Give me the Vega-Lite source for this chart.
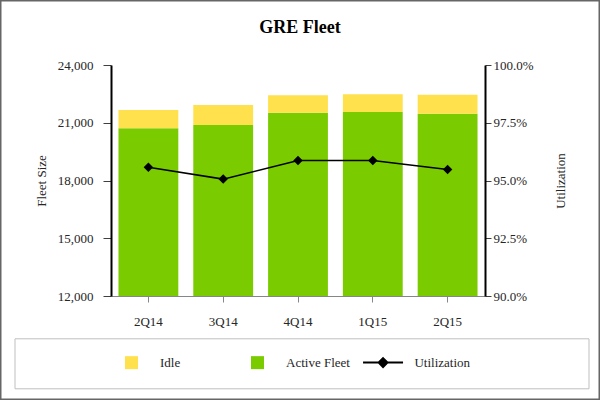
{
  "$schema": "https://vega.github.io/schema/vega-lite/v6.json",
  "width": 600,
  "height": 400,
  "autosize": {"type": "none"},
  "padding": 0,
  "background": "white",
  "title": {"text": "GRE Fleet", "font": "Liberation Serif", "fontSize": 18, "fontWeight": "bold", "color": "black", "baseline": "alphabetic", "offset": -51, "anchor": "middle"},
  "config": {
    "view": {"stroke": "#666666", "strokeWidth": 3},
    "font": "Liberation Serif",
    "axis": {"labelFont": "Liberation Serif", "labelFontSize": 13, "labelColor": "#262626", "titleFont": "Liberation Serif", "titleFontSize": 13, "titleFontWeight": "normal", "titleColor": "#262626", "grid": false},
    "legend": {"labelFont": "Liberation Serif", "labelFontSize": 13, "labelColor": "#262626"}
  },
  "datasets": {
    "fleet": [
      {"quarter": "2Q14", "series": "Active Fleet", "units": 20712},
      {"quarter": "2Q14", "series": "Idle", "units": 950},
      {"quarter": "3Q14", "series": "Active Fleet", "units": 20883},
      {"quarter": "3Q14", "series": "Idle", "units": 1039},
      {"quarter": "4Q14", "series": "Active Fleet", "units": 21522},
      {"quarter": "4Q14", "series": "Idle", "units": 904},
      {"quarter": "1Q15", "series": "Active Fleet", "units": 21558},
      {"quarter": "1Q15", "series": "Idle", "units": 920},
      {"quarter": "2Q15", "series": "Active Fleet", "units": 21470},
      {"quarter": "2Q15", "series": "Idle", "units": 987}
    ],
    "util": [
      {"quarter": "2Q14", "utilization": 0.9557},
      {"quarter": "3Q14", "utilization": 0.9506},
      {"quarter": "4Q14", "utilization": 0.9587},
      {"quarter": "1Q15", "utilization": 0.9587},
      {"quarter": "2Q15", "utilization": 0.9548}
    ]
  },
  "encoding": {
    "x": {
      "field": "quarter", "type": "nominal", "sort": ["2Q14", "3Q14", "4Q14", "1Q15", "2Q15"],
      "scale": {"range": [111, 485], "paddingInner": 0.2, "paddingOuter": 0.1},
      "axis": {"orient": "bottom", "offset": -104, "title": null, "labelAngle": 0, "domainColor": "#868686", "domainWidth": 1, "tickColor": "#868686", "tickSize": 6, "labelPadding": 13}
    }
  },
  "layer": [
    {
      "data": {"name": "fleet"},
      "mark": {"type": "bar"},
      "encoding": {
        "y": {
          "field": "units", "type": "quantitative", "stack": "zero",
          "scale": {"domain": [12000, 24000], "range": [296, 65], "zero": false, "nice": false, "clamp": true},
          "axis": {"orient": "left", "offset": -111, "title": "Fleet Size", "values": [12000, 15000, 18000, 21000, 24000], "format": ",d", "domainColor": "black", "domainWidth": 2, "tickColor": "#404040", "tickSize": 8, "labelPadding": 10, "titlePadding": 9}
        },
        "order": {"field": "series", "sort": "ascending"},
        "fill": {
          "field": "series", "type": "nominal",
          "scale": {"domain": ["Idle", "Active Fleet"], "range": ["#FFE14D", "#7ACC00"]},
          "legend": {
            "orient": "none", "legendX": 125, "legendY": 355.9, "direction": "horizontal",
            "title": null, "padding": 0,
            "symbolType": "square", "symbolSize": 169, "symbolStrokeWidth": 0,
            "labelOffset": 22, "columnPadding": 70, "labelLimit": 1000
          }
        }
      }
    },
    {
      "data": {"name": "util"},
      "layer": [
        {
          "mark": {"type": "line", "strokeWidth": 1.5},
          "encoding": {
            "y": {
              "field": "utilization", "type": "quantitative",
              "scale": {"domain": [0.9, 1.0], "range": [296, 65], "zero": false, "nice": false},
              "axis": {"orient": "right", "offset": -115, "title": "Utilization", "titleAngle": 270, "values": [0.9, 0.925, 0.95, 0.975, 1.0], "format": ".1%", "domainColor": "black", "domainWidth": 2, "tickColor": "#404040", "tickSize": 6, "labelPadding": 2, "titlePadding": 34}
            },
            "stroke": {
              "datum": "Utilization",
              "scale": {"range": ["black"]},
              "legend": {
                "orient": "none", "legendX": 14.5, "legendY": 338.3,
                "title": "\u00a0", "titleOrient": "left", "titleFontSize": 1, "titlePadding": 344.3,
                "padding": 16.75, "strokeColor": "#BFBFBF",
                "symbolType": "M-3.077,0L3.077,0M0,-0.68L0.68,0L0,0.68L-0.68,0Z",
                "symbolSize": 169, "symbolStrokeWidth": 2, "symbolStrokeColor": "black", "symbolFillColor": "black",
                "labelOffset": 23.9, "labelLimit": 1000,
                "labelExpr": "pad(datum.label, 42, '\u00a0') + '\u200b'",
                "encode": {"symbols": {"update": {"fill": {"value": "black"}, "stroke": {"value": "black"}, "strokeWidth": {"value": 2}}}}
              }
            }
          }
        },
        {
          "mark": {"type": "point", "shape": "diamond", "filled": true, "size": 90, "color": "black", "opacity": 1},
          "encoding": {
            "y": {"field": "utilization", "type": "quantitative"}
          }
        }
      ]
    }
  ],
  "resolve": {"scale": {"y": "independent"}}
}
